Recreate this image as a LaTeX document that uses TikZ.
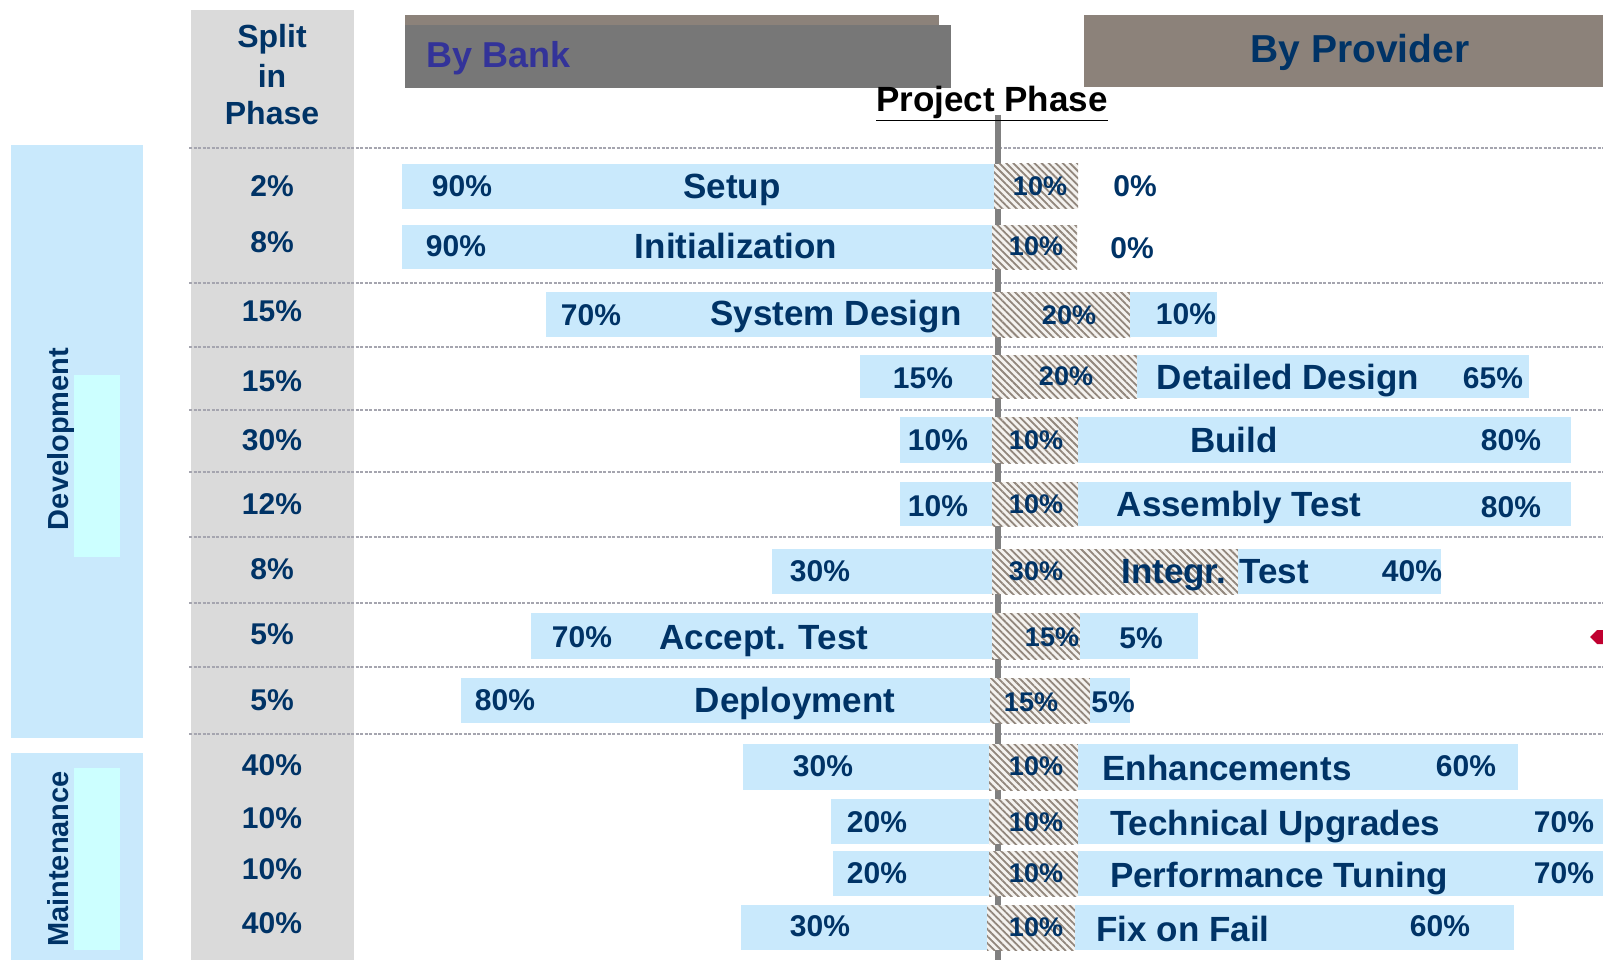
\documentclass[tikz,border=0pt]{standalone}
\usepackage{fontspec}
\setmainfont{Liberation Sans}
\usetikzlibrary{patterns.meta}
\definecolor{navy}{RGB}{0,51,102}
\definecolor{bankblue}{RGB}{51,51,153}
\definecolor{barblue}{RGB}{201,233,252}
\definecolor{cyanbox}{RGB}{204,255,255}
\definecolor{colgrey}{RGB}{218,218,218}
\definecolor{bankgrey}{RGB}{119,119,119}
\definecolor{taupe}{RGB}{140,130,122}
\definecolor{hatchc}{RGB}{145,134,124}
\definecolor{hatchbg}{RGB}{244,242,239}
\definecolor{sepgrey}{RGB}{165,165,175}
\definecolor{midgrey}{RGB}{128,128,128}
\definecolor{redmark}{RGB}{192,0,48}
\begin{document}
\begin{tikzpicture}[x=1pt, y=-1pt,
	phasetxt/.style={font=\fontsize{35}{40}\selectfont\bfseries, text=navy, inner sep=0pt, text height=25pt, text depth=0pt},
	pcttxt/.style={font=\fontsize{30}{34}\selectfont\bfseries, text=navy, inner sep=0pt, text height=21.5pt, text depth=0pt},
	hpcttxt/.style={font=\fontsize{27}{30}\selectfont\bfseries, text=navy, inner sep=0pt, text height=19.5pt, text depth=0pt},
	sidetxt/.style={font=\fontsize{29}{32}\selectfont\bfseries, text=navy, inner sep=0pt, text height=21pt, text depth=0pt, rotate=90},
	headtxt/.style={font=\fontsize{32}{36}\selectfont\bfseries, text=navy, inner sep=0pt, anchor=base},
	barbox/.style={fill=barblue},
	hatchbox/.style={fill=hatchbg, postaction={pattern={Lines[angle=-45,distance=5pt,line width=1.8pt]}, pattern color=hatchc}},
	sepline/.style={sepgrey, line width=2pt, dash pattern=on 3pt off 1.5pt}
]
	\useasboundingbox (0,0) rectangle (1603,960);
	\fill[white] (0,0) rectangle (1603,960);

	\fill[colgrey] (191,10) rectangle (354,960);
	\fill[barblue] (11,145) rectangle (143,738);
	\fill[cyanbox] (74,375) rectangle (120,557);
	\fill[barblue] (11,753) rectangle (143,960);
	\fill[cyanbox] (74,768) rectangle (120,950);

	\fill[taupe] (405,15) rectangle (939,87);
	\fill[bankgrey] (405,25) rectangle (951,88);
	\fill[taupe] (1084,15) rectangle (1603,87);

	\draw[sepline] (189,148) -- (1603,148);
	\draw[sepline] (189,283) -- (1603,283);
	\draw[sepline] (189,347) -- (1603,347);
	\draw[sepline] (189,410) -- (1603,410);
	\draw[sepline] (189,472) -- (1603,472);
	\draw[sepline] (189,537) -- (1603,537);
	\draw[sepline] (189,603) -- (1603,603);
	\draw[sepline] (189,667) -- (1603,667);
	\draw[sepline] (189,734) -- (1603,734);

	\draw[midgrey, line width=6pt] (998,115) -- (998,960);

	\fill[barbox] (402,164) rectangle (994,209);
	\fill[hatchbox] (994,164) rectangle (1078,209);
	\fill[barbox] (402,225) rectangle (992,269);
	\fill[hatchbox] (992,225) rectangle (1077,269);
	\fill[barbox] (546,292) rectangle (994,337);
	\fill[hatchbox] (992,292) rectangle (1130,337);
	\fill[barbox] (1130,292) rectangle (1217,337);
	\fill[barbox] (860,355) rectangle (994,398);
	\fill[hatchbox] (992,355) rectangle (1137,398);
	\fill[barbox] (1137,355) rectangle (1529,398);
	\fill[barbox] (900,417) rectangle (994,463);
	\fill[hatchbox] (992,417) rectangle (1078,463);
	\fill[barbox] (1078,417) rectangle (1571,463);
	\fill[barbox] (900,482) rectangle (994,526);
	\fill[hatchbox] (992,482) rectangle (1078,526);
	\fill[barbox] (1078,482) rectangle (1571,526);
	\fill[barbox] (772,549) rectangle (994,594);
	\fill[hatchbox] (992,549) rectangle (1238,594);
	\fill[barbox] (1238,549) rectangle (1441,594);
	\fill[barbox] (531,613) rectangle (994,659);
	\fill[hatchbox] (992,613) rectangle (1080,659);
	\fill[barbox] (1080,613) rectangle (1198,659);
	\fill[barbox] (461,678) rectangle (992,723);
	\fill[hatchbox] (990,678) rectangle (1090,723);
	\fill[barbox] (1090,678) rectangle (1130,723);
	\fill[barbox] (743,744) rectangle (992,790);
	\fill[hatchbox] (989,744) rectangle (1078,790);
	\fill[barbox] (1078,744) rectangle (1518,790);
	\fill[barbox] (831,799) rectangle (992,844);
	\fill[hatchbox] (989,799) rectangle (1078,844);
	\fill[barbox] (1078,799) rectangle (1603,844);
	\fill[barbox] (833,851) rectangle (992,896);
	\fill[hatchbox] (989,851) rectangle (1078,896);
	\fill[barbox] (1078,851) rectangle (1603,896);
	\fill[barbox] (741,905) rectangle (990,950);
	\fill[hatchbox] (987,905) rectangle (1075,950);
	\fill[barbox] (1075,905) rectangle (1514,950);

	\fill[redmark] (1590,637) -- (1597,630) -- (1603,630) -- (1603,644) -- (1597,644) -- cycle;

	\node[headtxt] (split) at (272,48) {Split};
	\node[headtxt] (splitin) at (272,88) {in};
	\node[headtxt] (splitphase) at (272,125) {Phase};
	\node[font=\fontsize{36}{40}\selectfont\bfseries, text=bankblue, inner sep=0pt, anchor=base west] (bybank) at (426,68) {By Bank};
	\node[font=\fontsize{39}{44}\selectfont\bfseries, text=navy, inner sep=0pt, anchor=base] (byprovider) at (1360,63) {By Provider};
	\node[font=\fontsize{35}{38}\selectfont\bfseries, inner sep=0pt, anchor=base] (projphase) at (992,112) {\underline{Project Phase}};

	\node[sidetxt] (dev) at (58,439) {Development};
	\node[sidetxt] (maint) at (58,859) {Maintenance};

	\node[pcttxt] (s1) at (272,186) {2\%};
	\node[pcttxt] (s2) at (272,242) {8\%};
	\node[pcttxt] (s3) at (272,311) {15\%};
	\node[pcttxt] (s4) at (272,381) {15\%};
	\node[pcttxt] (s5) at (272,440) {30\%};
	\node[pcttxt] (s6) at (272,504) {12\%};
	\node[pcttxt] (s7) at (272,569) {8\%};
	\node[pcttxt] (s8) at (272,634) {5\%};
	\node[pcttxt] (s9) at (272,700) {5\%};
	\node[pcttxt] (s10) at (272,765) {40\%};
	\node[pcttxt] (s11) at (272,818) {10\%};
	\node[pcttxt] (s12) at (272,869) {10\%};
	\node[pcttxt] (s13) at (272,923) {40\%};

	\node[pcttxt] (setupL) at (462,186) {90\%};
	\node[phasetxt] (setup) at (732,186) {Setup};
	\node[hpcttxt] (setupH) at (1040,186) {10\%};
	\node[pcttxt] (setupR) at (1135,186) {0\%};

	\node[pcttxt] (initL) at (456,246) {90\%};
	\node[phasetxt] (init) at (736,246) {Initialization};
	\node[hpcttxt] (initH) at (1036,246) {10\%};
	\node[pcttxt] (initR) at (1132,248) {0\%};

	\node[pcttxt] (sysL) at (591,315) {70\%};
	\node[phasetxt] (sys) at (836,313) {System Design};
	\node[hpcttxt] (sysH) at (1069,315) {20\%};
	\node[pcttxt] (sysR) at (1186,314) {10\%};

	\node[pcttxt] (detL) at (923,378) {15\%};
	\node[hpcttxt] (detH) at (1066,376) {20\%};
	\node[phasetxt] (det) at (1288,377) {Detailed Design};
	\node[pcttxt] (detR) at (1493,378) {65\%};

	\node[pcttxt] (buildL) at (938,440) {10\%};
	\node[hpcttxt] (buildH) at (1036,440) {10\%};
	\node[phasetxt] (build) at (1234,440) {Build};
	\node[pcttxt] (buildR) at (1511,440) {80\%};

	\node[pcttxt] (asmL) at (938,506) {10\%};
	\node[hpcttxt] (asmH) at (1036,504) {10\%};
	\node[phasetxt] (asm) at (1239,504) {Assembly Test};
	\node[pcttxt] (asmR) at (1511,507) {80\%};

	\node[pcttxt] (intL) at (820,571) {30\%};
	\node[hpcttxt] (intH) at (1036,571) {30\%};
	\node[phasetxt] (int) at (1215,571) {Integr. Test};
	\node[pcttxt] (intR) at (1412,571) {40\%};

	\node[pcttxt] (accL) at (582,637) {70\%};
	\node[phasetxt] (acc) at (764,637) {Accept. Test};
	\node[hpcttxt] (accH) at (1052,637) {15\%};
	\node[pcttxt] (accR) at (1141,638) {5\%};

	\node[pcttxt] (depL) at (505,700) {80\%};
	\node[phasetxt] (dep) at (795,700) {Deployment};
	\node[hpcttxt] (depH) at (1031,702) {15\%};
	\node[pcttxt] (depR) at (1113,702) {5\%};

	\node[pcttxt] (enhL) at (823,766) {30\%};
	\node[hpcttxt] (enhH) at (1036,766) {10\%};
	\node[phasetxt] (enh) at (1227,768) {Enhancements};
	\node[pcttxt] (enhR) at (1466,766) {60\%};

	\node[pcttxt] (techL) at (877,822) {20\%};
	\node[hpcttxt] (techH) at (1036,822) {10\%};
	\node[phasetxt] (tech) at (1275,823) {Technical Upgrades};
	\node[pcttxt] (techR) at (1564,822) {70\%};

	\node[pcttxt] (perfL) at (877,873) {20\%};
	\node[hpcttxt] (perfH) at (1036,873) {10\%};
	\node[phasetxt] (perf) at (1279,875) {Performance Tuning};
	\node[pcttxt] (perfR) at (1564,873) {70\%};

	\node[pcttxt] (fixL) at (820,926) {30\%};
	\node[hpcttxt] (fixH) at (1036,927) {10\%};
	\node[phasetxt] (fix) at (1183,929) {Fix on Fail};
	\node[pcttxt] (fixR) at (1440,926) {60\%};
\end{tikzpicture}
\end{document}
